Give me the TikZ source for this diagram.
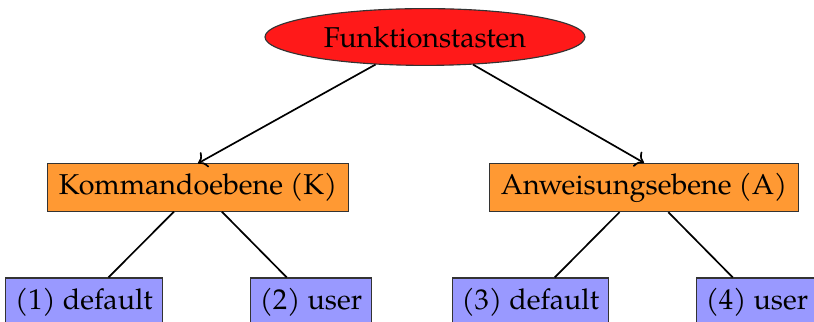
\documentclass[tikz,border=0pt]{standalone}
\usepackage{fontspec}
\setmainfont{TeX Gyre Pagella}
\usepackage{tikz}
\usetikzlibrary{shapes.geometric, arrows.meta, positioning}
\tikzset{
  fk root/.style={
    ellipse, draw=black!80, fill=red!90,
    minimum width=4.0cm, minimum height=0.71cm, inner sep=1pt
  },
  fk level/.style={
    rectangle, draw=black!80, fill=orange!80,
    minimum height=0.59cm, inner xsep=4pt
  },
  fk leaf/.style={
    rectangle, draw=black!80, fill=blue!40,
    minimum height=0.6cm, inner xsep=3.4pt
  },
  fk arrow/.style={->, semithick},
  fk line/.style={semithick}
}

\begin{document}
\begin{tikzpicture}[font=\fontsize{10.2}{12}\selectfont]
\useasboundingbox (0,0) rectangle (10.175,-4.025);

% ====== root ======
\node[fk root] (root) at (5.3125,-0.4625) {Funktionstasten};

% ====== levels ======
\node[fk level] (kmd) at (2.475,-2.344) {Kommandoebene (K)};
\node[fk level] (anw) at (8.05,-2.344) {Anweisungsebene (A)};

% ====== leaves ======
\node[fk leaf] (kdef) at (1.05,-3.775) {(1) default};
\node[fk leaf] (kusr) at (3.8875,-3.775) {(2) user};
\node[fk leaf] (adef) at (6.63,-3.775) {(3) default};
\node[fk leaf] (ausr) at (9.4625,-3.775) {(4) user};

% -- connectors --
\draw[fk arrow] (root) -- (kmd.north);
\draw[fk arrow] (root) -- (anw.north);
\draw[fk line] (kmd) -- (kdef);
\draw[fk line] (kmd) -- (kusr);
\draw[fk line] (anw) -- (adef);
\draw[fk line] (anw) -- (ausr);

\end{tikzpicture}
\end{document}
